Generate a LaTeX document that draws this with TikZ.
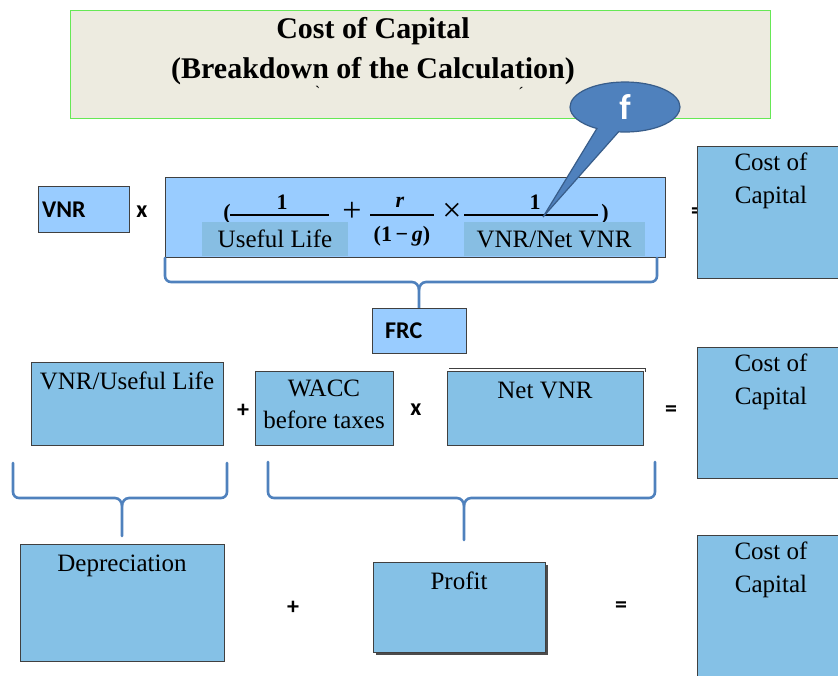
\documentclass[tikz,border=0pt]{standalone}
\usepackage{fontspec}
\setmainfont{Liberation Serif}
\newfontfamily\opfont{Carlito}
\usetikzlibrary{shapes.callouts}
\definecolor{boxblue}{HTML}{85C1E6}
\definecolor{lightblue}{HTML}{99CCFF}
\definecolor{labelblue}{HTML}{87BEE3}
\definecolor{bracecol}{HTML}{4F81BD}
\definecolor{titlefill}{HTML}{EDEBE0}
\definecolor{titleline}{HTML}{66E855}
\definecolor{calloutfill}{HTML}{4F81BD}
\definecolor{calloutline}{HTML}{385D8A}
\begin{document}
\begin{tikzpicture}[x=1pt,y=-1pt,
  sertext/.style={font=\fontsize{25}{30}\selectfont, inner sep=0pt, anchor=base},
  titletext/.style={font=\bfseries\fontsize{30}{34}\selectfont, inner sep=0pt, anchor=base},
  optext/.style={font=\opfont\bfseries\fontsize{24}{28}\selectfont, inner sep=0pt},
  boldsans/.style={font=\opfont\bfseries\fontsize{24}{28}\selectfont, inner sep=0pt, anchor=west},
  bluebox/.style={draw=black!75, line width=1.1pt, fill=boxblue, anchor=north west, inner sep=0pt},
  lightbox/.style={draw=black!75, line width=1.1pt, fill=lightblue, anchor=north west, inner sep=0pt},
  labelbox/.style={fill=labelblue, anchor=north west, inner sep=0pt},
  bracestyle/.style={draw=bracecol, line width=2.6pt, line cap=round},
  mathtext/.style={font=\bfseries\fontsize{22}{24}\selectfont, inner sep=0pt},
  mathop/.style={font=\fontsize{34}{36}\selectfont, inner sep=0pt},
  fracline/.style={draw=black, line width=1.4pt},
]
\useasboundingbox (0,0) rectangle (838,675);
\clip (0,0) rectangle (838,675);

% title
\node[draw=titleline, line width=1pt, fill=titlefill, anchor=north west, minimum width=700, minimum height=108, inner sep=0pt] (title) at (70,10) {};
\node[titletext] (title1) at (373,38) {Cost of Capital};
\node[titletext] (title2) at (373,78) {(Breakdown of the Calculation)};
\node[font=\fontsize{16}{18}\selectfont, inner sep=0pt] (mark1) at (318,93) {\`{}};
\node[font=\fontsize{16}{18}\selectfont, inner sep=0pt] (mark2) at (521,93) {´};

% row 1
\node[lightbox, minimum width=91, minimum height=46] (vnr) at (38,186) {};
\node[boldsans] (vnrt) at (42,210) {VNR};
\node[optext] (x1) at (142,212) {x};
\node[optext] (eq1) at (697,213) {=};

\node[lightbox, minimum width=500, minimum height=80] (formula) at (165,177) {};
\node[mathtext] (lp) at (227,214) {(};
\node[mathtext] (n1) at (282,202) {1};
\draw[fracline] (230,215) -- (329,215);
\node[mathop] (plus) at (352,212) {+};
\node[mathtext] (nr) at (400,202) {\itshape r};
\draw[fracline] (370,215) -- (434,215);
\node[mathtext] (dg) at (402,236) {(1\,−\,\textit{g})};
\node[mathop] (times) at (452,212) {×};
\node[mathtext] (n3) at (535,202) {1};
\draw[fracline] (464,215) -- (598,215);
\node[mathtext] (rp) at (605,214) {)};
\node[labelbox, minimum width=146, minimum height=34] (ulbox) at (202,222) {};
\node[sertext] (ult) at (275,247) {Useful Life};
\node[labelbox, minimum width=181, minimum height=34] (nvbox) at (464,222) {};
\node[sertext] (nvt) at (554,247) {VNR/Net VNR};

\node[bluebox, minimum width=150, minimum height=132] (coc1) at (697,146) {};
\node[sertext] (coc1a) at (771,170) {Cost of};
\node[sertext] (coc1b) at (771,203) {Capital};

% brace 1
\coordinate (b1end) at (419,308);
\draw[bracestyle] (165,258) -- (165,276) to[out=-90,in=180] (171,282) -- (412,282) to[out=0,in=90] (419,290) -- (b1end);
\draw[bracestyle] (657,258) -- (657,276) to[out=-90,in=0] (651,282) -- (426,282) to[out=180,in=90] (419,290);

\node[lightbox, minimum width=94, minimum height=45] (frc) at (372,308) {};
\node[boldsans] (frct) at (385,331) {FRC};

% row 3
\node[bluebox, minimum width=192, minimum height=83] (vul) at (31,362) {};
\node[sertext] (vult) at (127,389) {VNR/Useful Life};
\node[optext] (plus2) at (243,411) {+};
\node[bluebox, minimum width=138, minimum height=74] (wacc) at (255,371) {};
\node[sertext] (wacct1) at (324,396) {WACC};
\node[sertext] (wacct2) at (324,428) {before taxes};
\node[optext] (x2) at (416,410) {x};
\draw[black!75, line width=1pt] (449,368) -- (645,368) -- (645,372);
\node[bluebox, minimum width=196, minimum height=74] (netvnr) at (447,371) {};
\node[sertext] (netvnrt) at (545,398) {Net VNR};
\node[optext] (eq2) at (671,411) {=};
\node[bluebox, minimum width=150, minimum height=131] (coc2) at (697,347) {};
\node[sertext] (coc2a) at (771,371) {Cost of};
\node[sertext] (coc2b) at (771,404) {Capital};

% braces 2 and 3
\coordinate (b2end) at (122,536);
\draw[bracestyle] (13,463) -- (13,492) to[out=-90,in=180] (19,498) -- (115,498) to[out=0,in=90] (122,506) -- (b2end);
\draw[bracestyle] (227,463) -- (227,492) to[out=-90,in=0] (221,498) -- (129,498) to[out=180,in=90] (122,506);
\coordinate (b3end) at (464,540);
\draw[bracestyle] (268,462) -- (268,492) to[out=-90,in=180] (274,498) -- (457,498) to[out=0,in=90] (464,506) -- (b3end);
\draw[bracestyle] (655,462) -- (655,492) to[out=-90,in=0] (649,498) -- (471,498) to[out=180,in=90] (464,506);

% row 5
\node[bluebox, minimum width=204, minimum height=117] (dep) at (20,544) {};
\node[sertext] (dept) at (122,571) {Depreciation};
\node[optext] (plus3) at (293,608) {+};
\fill[black!70] (376,565) rectangle (548,655);
\node[bluebox, minimum width=172, minimum height=90] (profit) at (373,562) {};
\node[sertext] (profitt) at (459,589) {Profit};
\node[optext] (eq3) at (621,607) {=};
\node[bluebox, minimum width=150, minimum height=150] (coc3) at (697,535) {};
\node[sertext] (coc3a) at (771,559) {Cost of};
\node[sertext] (coc3b) at (771,592) {Capital};

% callout
\node[ellipse callout, draw=calloutline, line width=1.2pt, fill=calloutfill,
  minimum width=110, minimum height=50, inner sep=0pt,
  callout absolute pointer={(543,217)}, callout pointer arc=24,
  text=white, font=\opfont\bfseries\fontsize{36}{40}\selectfont] (fcall) at (625,107) {f};
\end{tikzpicture}
\end{document}
